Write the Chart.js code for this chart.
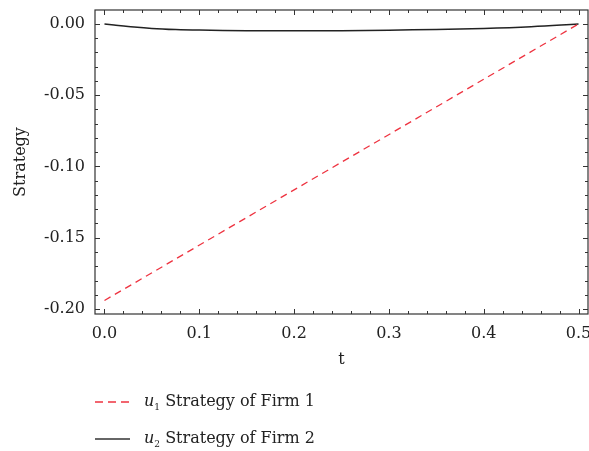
<!DOCTYPE html>
<html>
<head>
<meta charset="utf-8">
<script src="https://cdn.jsdelivr.net/npm/chart.js@4"></script>
<style>
html,body{margin:0;padding:0;background:#fff;}
#wrap{position:relative;width:589px;height:451px;}
#c{position:absolute;left:0;top:0;}
.leg{position:absolute;left:95px;height:20px;font-family:"DejaVu Serif",serif;font-size:16px;color:#222;white-space:nowrap;}
.leg svg{position:absolute;left:0;top:0;}
.leg span{position:absolute;left:49px;top:-2px;line-height:22px;}
.leg sub{font-size:9px;vertical-align:-4px;}
</style>
</head>
<body>
<div id="wrap">
<canvas id="c" width="589" height="451"></canvas>
<div class="leg" style="top:392px;">
  <svg width="40" height="20"><line x1="0" y1="10" x2="34" y2="10" stroke="#ee3340" stroke-width="1.4" stroke-dasharray="8,5"/></svg>
  <span><i>u</i><sub>1</sub> Strategy of Firm 1</span>
</div>
<div class="leg" style="top:429px;">
  <svg width="40" height="20"><line x1="0" y1="10" x2="35" y2="10" stroke="#666" stroke-width="2"/></svg>
  <span><i>u</i><sub>2</sub> Strategy of Firm 2</span>
</div>
</div>
<script>
// Data
const t1 = [0, 0.5];
const u1 = [-0.194, 0];
const t2 = [0, 0.01, 0.025, 0.05, 0.075, 0.1, 0.15, 0.2, 0.25, 0.3, 0.35, 0.4, 0.45, 0.5];
const u2 = [0, -0.0007, -0.0017, -0.0031, -0.0039, -0.0043, -0.0047, -0.0048, -0.0047, -0.0044, -0.0038, -0.0031, -0.0019, 0];
const xTicks = [0, 0.1, 0.2, 0.3, 0.4, 0.5];
const yTicks = [0, -0.05, -0.10, -0.15, -0.20];

const FONT = '"DejaVu Serif",serif';

const framePlugin = {
  id: 'frame',
  afterDraw(chart) {
    const {ctx, chartArea: a, scales: {x, y}} = chart;
    ctx.save();
    ctx.strokeStyle = '#333';
    ctx.lineWidth = 1.2;
    ctx.strokeRect(a.left, a.top, a.right - a.left, a.bottom - a.top);
    ctx.lineWidth = 1;
    for (let k = 0; k <= 25; k++) {
      const v = k * 0.02;
      const px = Math.round(x.getPixelForValue(v)) + 0.5;
      const len = (k % 5 === 0) ? 5 : 3;
      ctx.beginPath();
      ctx.moveTo(px, a.bottom); ctx.lineTo(px, a.bottom - len);
      ctx.moveTo(px, a.top); ctx.lineTo(px, a.top + len);
      ctx.stroke();
    }
    for (let k = -20; k <= 0; k++) {
      const v = k * 0.01;
      const py = Math.round(y.getPixelForValue(v)) + 0.5;
      const len = (k % 5 === 0) ? 5 : 3;
      ctx.beginPath();
      ctx.moveTo(a.left, py); ctx.lineTo(a.left + len, py);
      ctx.moveTo(a.right, py); ctx.lineTo(a.right - len, py);
      ctx.stroke();
    }
    ctx.restore();
  }
};

function noPad(s) {
  s.paddingLeft = 0; s.paddingRight = 0; s.paddingTop = 0; s.paddingBottom = 0;
}

new Chart(document.getElementById('c'), {
  type: 'line',
  data: {
    datasets: [
      {
        label: 'u1 Strategy of Firm 1',
        data: t1.map((t, i) => ({x: t, y: u1[i]})),
        borderColor: '#ee3340',
        borderWidth: 1.3,
        borderDash: [7, 5],
        pointRadius: 0,
        fill: false
      },
      {
        label: 'u2 Strategy of Firm 2',
        data: t2.map((t, i) => ({x: t, y: u2[i]})),
        borderColor: '#222',
        borderWidth: 1.5,
        pointRadius: 0,
        tension: 0.4,
        fill: false
      }
    ]
  },
  options: {
    responsive: false,
    animation: false,
    layout: {padding: {top: 10, left: 0, right: 1, bottom: 82}},
    plugins: {legend: {display: false}, tooltip: {enabled: false}},
    scales: {
      x: {
        type: 'linear',
        min: -0.01, max: 0.51,
        afterBuildTicks: s => { s.ticks = xTicks.map(v => ({value: v})); },
        afterFit: s => { s.height = 55; noPad(s); },
        grid: {display: false, drawTicks: false},
        border: {display: false},
        ticks: {
          padding: 10,
          color: '#222',
          font: {family: FONT, size: 16},
          callback: v => Number(v).toFixed(1)
        },
        title: {display: true, text: 't', color: '#222', font: {family: FONT, size: 16}, padding: {top: 4, bottom: 0}}
      },
      y: {
        type: 'linear',
        min: -0.2035, max: 0.0098,
        afterBuildTicks: s => { s.ticks = yTicks.map(v => ({value: v})); },
        afterFit: s => { s.width = 95; noPad(s); },
        grid: {display: false, drawTicks: false},
        border: {display: false},
        ticks: {
          padding: 10,
          color: '#222',
          font: {family: FONT, size: 16},
          callback: v => (Math.abs(v) < 1e-9 ? 0 : Number(v)).toFixed(2)
        },
        title: {display: true, text: 'Strategy', color: '#222', font: {family: FONT, size: 16}, padding: {top: 11, bottom: 0}}
      }
    }
  },
  plugins: [framePlugin]
});
</script>
</body>
</html>
